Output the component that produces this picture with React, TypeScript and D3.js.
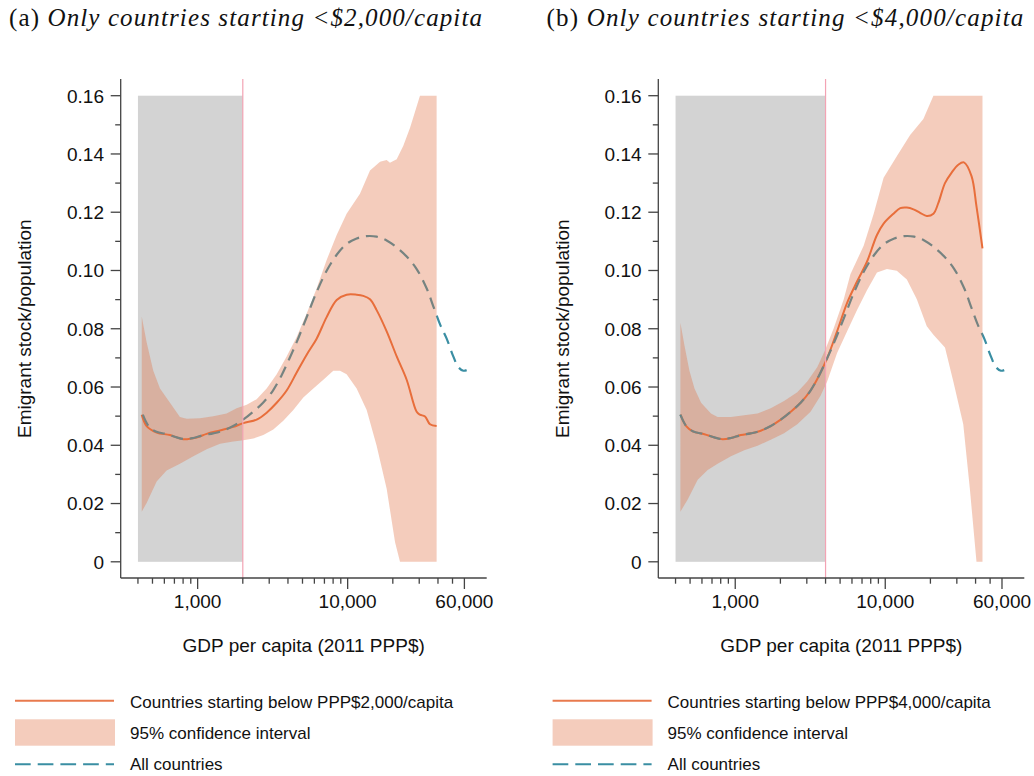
import React from 'react'
import * as d3 from 'd3'

// all countries (same curve in both panels)
const allGdp = [431, 471, 521, 623, 726, 824, 936, 1091, 1270, 1480, 1725, 2010, 2340, 2729, 3177, 3610, 4100, 4573, 5333, 6211, 7244, 8451, 9840, 11480, 13390, 15600, 18200, 21230, 24730, 28840, 33650, 37240, 41300, 45710, 50600, 54700, 59000, 62100]
const allVal = [0.0505, 0.0466, 0.0448, 0.0438, 0.0427, 0.0421, 0.0425, 0.0435, 0.0441, 0.045, 0.0466, 0.0488, 0.0515, 0.0546, 0.0588, 0.0638, 0.0699, 0.0754, 0.084, 0.0926, 0.0999, 0.1054, 0.1091, 0.111, 0.1118, 0.1116, 0.1103, 0.1079, 0.1048, 0.1005, 0.0938, 0.0877, 0.0815, 0.0766, 0.0705, 0.0668, 0.0656, 0.0658]

// panel (a): countries starting below 2,000
const aGdp = [424, 457, 533, 654, 802, 985, 1148, 1409, 1729, 2015, 2473, 2884, 3365, 3920, 4573, 5333, 6211, 7244, 8451, 9840, 11480, 12710, 14090, 15600, 18200, 21230, 24730, 28840, 30340, 32800, 35400, 39170]
const aVal = [0.0505, 0.0466, 0.0444, 0.0435, 0.0421, 0.0427, 0.0439, 0.0451, 0.0463, 0.0476, 0.0488, 0.0512, 0.0546, 0.0588, 0.065, 0.0711, 0.0766, 0.084, 0.0899, 0.0917, 0.0917, 0.0913, 0.0901, 0.0864, 0.0791, 0.0705, 0.0625, 0.0515, 0.0505, 0.0499, 0.0472, 0.0466]
const aUpGdp = [424, 457, 506, 561, 654, 762, 845, 1036, 1271, 1560, 1820, 2123, 2473, 2884, 3365, 3920, 4573, 5333, 6211, 7244, 8451, 9840, 12080, 14090, 16440, 18200, 19140, 21230, 23500, 26060, 30340, 39170]
const aUp = [0.0842, 0.0754, 0.0656, 0.0595, 0.0546, 0.0497, 0.0491, 0.0493, 0.05, 0.0509, 0.0527, 0.0539, 0.0558, 0.0595, 0.0644, 0.0705, 0.0772, 0.0852, 0.0938, 0.1036, 0.1122, 0.1195, 0.1263, 0.1343, 0.1373, 0.1379, 0.137, 0.1382, 0.1428, 0.149, 0.16, 0.16]
const aLoGdp = [424, 457, 533, 621, 762, 936, 1148, 1409, 1729, 2015, 2350, 2740, 3194, 3724, 4343, 5063, 5904, 6886, 8020, 8892, 9840, 11480, 13390, 15600, 18200, 20700, 22330, 39170]
const aLo = [0.0172, 0.0202, 0.0276, 0.0313, 0.0337, 0.0362, 0.0386, 0.0405, 0.0413, 0.0417, 0.0423, 0.0435, 0.0454, 0.0484, 0.0521, 0.0564, 0.0595, 0.0625, 0.0656, 0.0656, 0.0644, 0.0595, 0.0521, 0.0398, 0.0251, 0.0067, 0, 0]

// panel (b): countries starting below 4,000
const bGdp = [431, 471, 521, 623, 726, 824, 936, 1091, 1270, 1480, 1725, 2010, 2340, 2729, 3177, 3610, 4100, 4775, 5570, 6486, 7553, 8805, 9750, 11350, 12590, 13930, 15420, 17070, 18920, 20940, 22600, 25010, 27690, 30670, 33440, 37590, 40560, 44470]
const bVal = [0.0505, 0.0466, 0.0448, 0.0438, 0.0427, 0.0421, 0.0425, 0.0435, 0.0441, 0.045, 0.0466, 0.0488, 0.0515, 0.0546, 0.0588, 0.0638, 0.0699, 0.0791, 0.0889, 0.0962, 0.103, 0.1122, 0.1161, 0.1195, 0.1214, 0.1216, 0.121, 0.1198, 0.1187, 0.1195, 0.1232, 0.13, 0.1336, 0.1363, 0.1371, 0.1324, 0.122, 0.1076]
const bUpGdp = [431, 459, 495, 535, 592, 689, 763, 936, 1148, 1407, 1725, 2115, 2592, 3020, 3519, 3995, 4541, 5289, 5859, 7178, 8375, 9750, 11940, 14650, 17950, 20940, 44470]
const bUp = [0.0821, 0.0742, 0.0656, 0.0595, 0.0546, 0.0509, 0.0497, 0.0497, 0.0503, 0.0509, 0.0527, 0.0552, 0.0582, 0.0619, 0.0668, 0.073, 0.0803, 0.0901, 0.0987, 0.1085, 0.1195, 0.1318, 0.1392, 0.1465, 0.152, 0.16, 0.16]
const bLoGdp = [431, 483, 562, 655, 763, 936, 1148, 1407, 1725, 2115, 2592, 3177, 3704, 4100, 4775, 5570, 6486, 7553, 8805, 10260, 11940, 13930, 16230, 18920, 20940, 25010, 28430, 33110, 36640, 40560, 44470]
const bLo = [0.0172, 0.0215, 0.0282, 0.0315, 0.0337, 0.0362, 0.0383, 0.0398, 0.0419, 0.0441, 0.0472, 0.0515, 0.057, 0.0619, 0.0717, 0.0791, 0.0864, 0.0932, 0.0993, 0.1005, 0.0999, 0.0969, 0.0901, 0.0809, 0.0779, 0.0736, 0.0619, 0.0472, 0.0251, 0, 0]

const majorTicks = [1000, 10000, 60000]
const minorTicks = [400, 500, 600, 700, 800, 900, 2000, 3000, 4000, 5000, 6000, 7000, 8000, 9000, 20000, 30000, 40000, 50000]
const yTicks = [0, 0.02, 0.04, 0.06, 0.08, 0.1, 0.12, 0.14, 0.16]
const yMinor = [0.01, 0.03, 0.05, 0.07, 0.09, 0.11, 0.13, 0.15]

const W = 1034
const H = 776
const AXIS_W = 366
const Y_ZERO = 561.8
const Y_TOP = 95.7
const AXIS_Y = 578
const AXIS_TOP = 79
const SANS = 'Liberation Sans, Arial, sans-serif'
const SERIF = 'Liberation Serif, Times New Roman, serif'

const ORANGE = '#ec6c36'
const CI = '#e07245'
const TEAL = '#3a8ea3'
const fmt = d3.format(',')

type PanelProps = {
  left: number
  cutoff: number
  gdp: number[]
  val: number[]
  upG: number[]
  up: number[]
  loG: number[]
  lo: number[]
  tag: string
  title: string
  titleLen: number
  legendText: string
}

function Panel({ left, cutoff, gdp, val, upG, up, loG, lo, tag, title, titleLen, legendText }: PanelProps) {
  const x = d3.scaleLog().domain([307, 84500]).range([left, left + AXIS_W])
  const y = d3.scaleLinear().domain([0, 0.16]).range([Y_ZERO, Y_TOP])
  const pts = (g: number[], v: number[]) =>
    g.map((d, i) => [x(d), y(Math.max(0, Math.min(0.16, v[i])))] as [number, number])
  const smooth = d3.line().curve(d3.curveCatmullRom.alpha(0.5))
  const poly = d3.line()
  const ciPts = [...pts(upG, up), ...pts(loG, lo).reverse()]
  const lx = left - 105.7

  return (
    <g>
      <text x={left - 111.7} y={26} fontFamily={SERIF} fontSize={25} fill="#111" textLength={titleLen} lengthAdjust="spacing">
        <tspan>{tag} </tspan>
        <tspan fontStyle="italic">{title}</tspan>
      </text>

      <rect x={x(400)} y={y(0.16)} width={x(cutoff) - x(400)} height={y(0) - y(0.16)} fill="#d3d3d3" />
      <path d={smooth(pts(gdp, val)) || ''} fill="none" stroke={ORANGE} strokeWidth={2} />
      <path d={smooth(pts(allGdp, allVal)) || ''} fill="none" stroke={TEAL} strokeWidth={2.2} strokeDasharray="12 7" />
      <path d={(poly(ciPts) || '') + 'Z'} fill={CI} fillOpacity={0.36} stroke="none" />
      <line x1={x(cutoff)} x2={x(cutoff)} y1={AXIS_TOP} y2={AXIS_Y} stroke="#f3a3b4" strokeWidth={1.2} />

      {/* axes */}
      <line x1={left} x2={left} y1={AXIS_TOP} y2={AXIS_Y} stroke="#444" strokeWidth={1.3} />
      <line x1={left} x2={left + AXIS_W} y1={AXIS_Y} y2={AXIS_Y} stroke="#444" strokeWidth={1.3} />
      {yTicks.map((t) => (
        <g key={`yt${t}`}>
          <line x1={left - 10} x2={left} y1={y(t)} y2={y(t)} stroke="#444" strokeWidth={1.3} />
          <text x={left - 16.7} y={y(t)} dy="0.36em" textAnchor="end" fontFamily={SANS} fontSize={19} fill="#111">
            {t === 0 ? '0' : t.toFixed(2)}
          </text>
        </g>
      ))}
      {yMinor.map((t) => (
        <line key={`ym${t}`} x1={left - 5.5} x2={left} y1={y(t)} y2={y(t)} stroke="#444" strokeWidth={1.3} />
      ))}
      {majorTicks.map((t) => (
        <g key={`xt${t}`}>
          <line x1={x(t)} x2={x(t)} y1={AXIS_Y} y2={AXIS_Y + 11} stroke="#444" strokeWidth={1.3} />
          <text x={x(t)} y={608.3} textAnchor="middle" fontFamily={SANS} fontSize={19} fill="#111">
            {fmt(t)}
          </text>
        </g>
      ))}
      {minorTicks.map((t) => (
        <line key={`xm${t}`} x1={x(t)} x2={x(t)} y1={AXIS_Y} y2={AXIS_Y + 5.7} stroke="#444" strokeWidth={1.3} />
      ))}
      <text x={left + AXIS_W / 2} y={652} textAnchor="middle" fontFamily={SANS} fontSize={19} fill="#111">
        GDP per capita (2011 PPP$)
      </text>
      <text transform={`translate(${left - 89.7}, 328.7) rotate(-90)`} textAnchor="middle" fontFamily={SANS} fontSize={19} fill="#111">
        Emigrant stock/population
      </text>

      {/* legend */}
      <line x1={lx} x2={lx + 99} y1={700.7} y2={700.7} stroke="#e87a4e" strokeWidth={2} />
      <text x={lx + 115} y={707.5} fontFamily={SANS} fontSize={17} fill="#111">{legendText}</text>
      <rect x={lx} y={719.3} width={100} height={26.4} fill={CI} fillOpacity={0.36} />
      <text x={lx + 115} y={738.8} fontFamily={SANS} fontSize={17} fill="#111">95% confidence interval</text>
      <line x1={lx} x2={lx + 99} y1={764.3} y2={764.3} stroke={TEAL} strokeWidth={2} strokeDasharray="15.7 7" />
      <text x={lx + 115} y={770} fontFamily={SANS} fontSize={17} fill="#111">All countries</text>
    </g>
  )
}

export default function App() {
  return (
    <div style={{ position: 'absolute', left: 0, top: 0, background: '#fff' }}>
      <svg width={W} height={H} viewBox={`0 0 ${W} ${H}`}>
        <rect width={W} height={H} fill="#fff" />
        <Panel
          left={120.7}
          cutoff={2000}
          gdp={aGdp}
          val={aVal}
          upG={aUpGdp}
          up={aUp}
          loG={aLoGdp}
          lo={aLo}
          tag="(a)"
          title="Only countries starting <$2,000/capita"
          titleLen={473}
          legendText="Countries starting below PPP$2,000/capita"
        />
        <Panel
          left={658.3}
          cutoff={4000}
          gdp={bGdp}
          val={bVal}
          upG={bUpGdp}
          up={bUp}
          loG={bLoGdp}
          lo={bLo}
          tag="(b)"
          title="Only countries starting <$4,000/capita"
          titleLen={476.7}
          legendText="Countries starting below PPP$4,000/capita"
        />
      </svg>
    </div>
  )
}
